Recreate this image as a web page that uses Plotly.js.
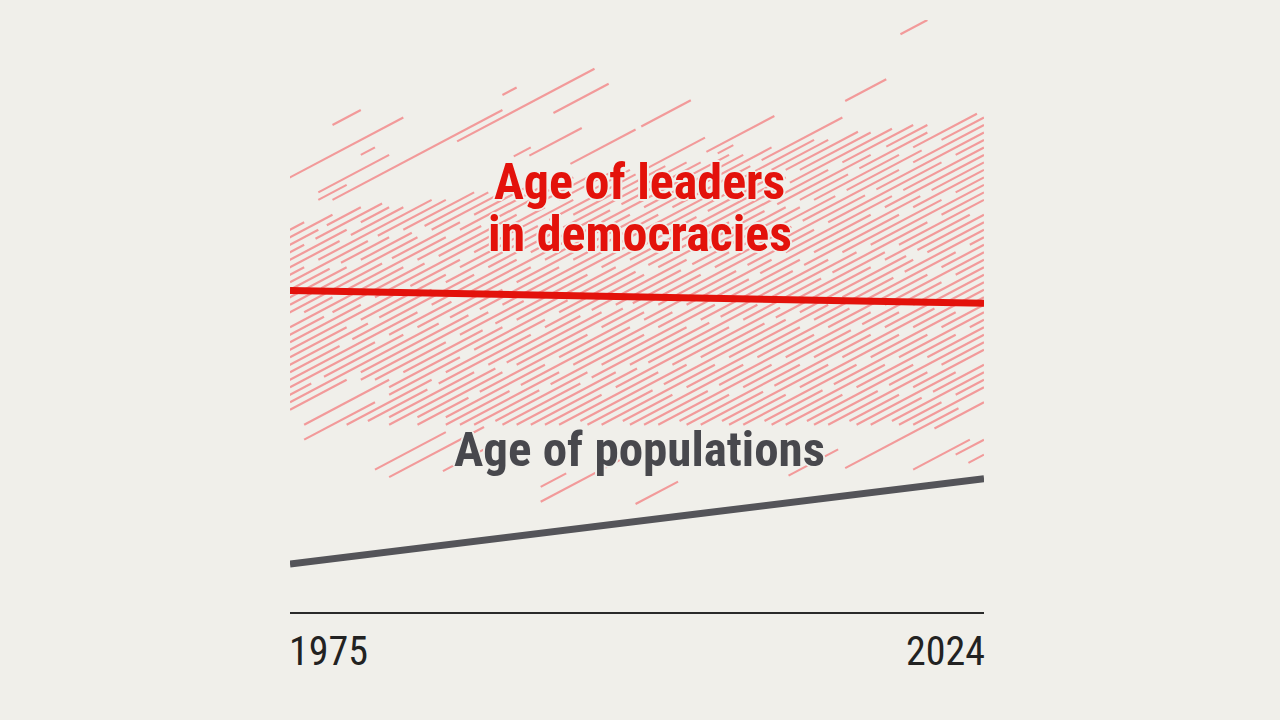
<!DOCTYPE html>
<html>
<head>
<meta charset="utf-8">
<script src="https://cdn.plot.ly/plotly-3.0.1.min.js"></script>
<style>
html,body{margin:0;padding:0;background:#f0efea;}
#chart{width:1280px;height:720px;}
</style>
</head>
<body>
<div id="chart"></div>
<script>
// Years shown on the x axis
const tickYears = [1975, 2024];

// Trend lines (age in years)
const trendYears = [1975, 2024];
const leaderAge = [55.9, 54.2];      // Age of leaders in democracies
const populationAge = [19.4, 30.8];  // Age of populations

// Individual leaders' tenures: [birth year, term start, term end]
const tenures = [
  [1900,1978,1980],
  [1904,1970,1983],
  [1906,1980,1981],
  [1908,1977,1982],[1908,1990,1991],
  [1909,1977,1979],
  [1910,1978,1990],
  [1911,1972,1976],[1911,1986.8,1996.5],
  [1912,1971,1978],
  [1913,1974,1977],[1913,1977.6,1980],
  [1914,1970,1976],[1914,1976.8,1981.5],[1914,1993.6,1997.5],
  [1915,1973,1979],[1915,1980,1982],
  [1916,1974,1978.5],[1916,1979.3,1983],
  [1917,1972,1976],[1917,1977,1985],[1917,1990.8,1992],
  [1918,1975,1980.5],[1918,1981.2,1986],[1918,1991.9,1995.6],
  [1919,1973,1977.8],[1919,1978.6,1982],[1919,1983,1988],
  [1920,1970,1979],[1920,1980,1983.6],[1920,1984.5,1989],
  [1921,1975,1976.5],[1921,1977.2,1984],[1921,1985,1990.5],
  [1922,1974,1981.5],[1922,1982.2,1987],[1922,1988,1992],[1922,1994.8,1999.4],[1922,1999.8,2003.3],
  [1923,1976,1978],[1923,1979,1986],[1923,1987,1993],
  [1924,1975,1983],[1924,1984,1988.5],[1924,1989.3,1995],
  [1925,1972,1977.4],[1925,1978,1984.5],[1925,1985.5,1991],[1925,1992,1996],
  [1926,1975,1980],[1926,1981,1989.6],[1926,1990.3,1993],[1926,1994,1998],
  [1927,1974,1982.6],[1927,1983.5,1987],[1927,1988,1995],[1927,1996,1999],
  [1928,1975,1979],[1928,1980,1986],[1928,1987,1992.5],[1928,1993.3,1999.4],[1928,2000.2,2004.3],[1928,2018.1,2020],
  [1929,1973,1980.5],[1929,1981.3,1985],[1929,1986,1994],[1929,1995,2001.5],
  [1930,1975,1978.5],[1930,1979.4,1988],[1930,1989,1993.5],[1930,1994.3,2003],[1930,2004.4,2009.2],
  [1931,1974,1984],[1931,1985,1991],[1931,1992,1997.6],[1931,1998.4,2004],[1931,2005.2,2006.3],
  [1932,1975,1981],[1932,1982,1986.4],[1932,1987.2,1996],[1932,1997,2006],
  [1933,1972,1976.5],[1933,1977.4,1983],[1933,1984,1992],[1933,1993,1999],[1933,2000,2007],[1933,2014.2,2017.1],
  [1934,1975,1985.5],[1934,1986.3,1990],[1934,1991,1995.6],[1934,1996.5,2003],[1934,2004,2009],
  [1935,1975,1979],[1935,1980,1987.6],[1935,1988.4,1994],[1935,1995,2001],[1935,2002,2007.5],[1935,2008.3,2014],
  [1936,1980,1989],[1936,1990,1997.5],[1936,1998.2,2005],[1936,2006,2012],
  [1937,1981,1986],[1937,1987,1991.5],[1937,1992.3,1999],[1937,2000,2008],[1937,2009,2013],
  [1938,1976,1982],[1938,1983,1988.6],[1938,1989.5,1996],[1938,1997,2003.7],[1938,2004.5,2009],[1938,2010,2015.1],
  [1939,1982,1990],[1939,1991,1998],[1939,1999,2002.5],[1939,2003.4,2010],[1939,2011,2016],
  [1940,1976,1981],[1940,1982,1987],[1940,1988,1994.6],[1940,1995.5,2001],[1940,2002,2009.5],[1940,2010.3,2017.5],
  [1941,1979,1985],[1941,1986,1993],[1941,1994,1999.4],[1941,2000.3,2006],[1941,2007,2013],[1941,2014,2019],
  [1942,1980.5,1984.7],[1942,1985.5,1992],[1942,1993,2000],[1942,2001,2008.5],[1942,2009.4,2016],[1942,2017.1,2020],
  [1943,1982,1988],[1943,1989,1995.5],[1943,1996.3,2003],[1943,2004,2010],[1943,2011,2014.4],[1943,2015.2,2020],
  [1944,1982,1989.5],[1944,1990.3,1997],[1944,1998,2002.6],[1944,2003.4,2011],[1944,2012,2018],[1944,2019,2023.5],
  [1945,1984,1990],[1945,1991,1998.5],[1945,1999.2,2006],[1945,2007,2013.5],[1945,2014.3,2019.6],[1945,2021,2024],
  [1946,1984,1987.6],[1946,1988.4,1996],[1946,1997,2004],[1946,2005,2010.4],[1946,2011.2,2018],[1946,2019,2024],
  [1947,1986,1993],[1947,1994,2000],[1947,2001,2008],[1947,2009,2015.6],[1947,2016.4,2024],
  [1948,1986,1990.5],[1948,1991.3,1999],[1948,2000,2006.5],[1948,2007.3,2012],[1948,2013,2021],[1948,2022,2024],
  [1949,1981,1986],[1949,1987,1994],[1949,1995,2002],[1949,2003,2009],[1949,2010,2017.5],[1949,2018.3,2024],
  [1950,1988,1992.6],[1950,1993.4,2000],[1950,2001,2007.4],[1950,2008.2,2016],[1950,2017,2024],
  [1951,1982,1988.7],[1951,1989.5,1996],[1951,1997,2005],[1951,2006,2011],[1951,2012,2019.5],[1951,2020.3,2024],
  [1952,1990,1995.5],[1952,1996.3,2003],[1952,2004,2010.5],[1952,2011.3,2018],[1952,2019,2024],
  [1953,1991,1998],[1953,1999,2004.6],[1953,2005.4,2013],[1953,2014,2021],[1953,2022,2024],
  [1954,1985.8,1989.7],[1954,1992,1999.5],[1954,2000.3,2008],[1954,2009,2015],[1954,2016,2024],
  [1955,1993,1997],[1955,1998,2006],[1955,2007,2012.5],[1955,2013.3,2020],[1955,2021,2024],
  [1956,1994,2001],[1956,2002,2009.6],[1956,2010.4,2017],[1956,2018,2024],
  [1957,1995.5,2003],[1957,2004,2008.5],[1957,2009.3,2016],[1957,2017,2023],
  [1958,1996,2000.6],[1958,2001.4,2010],[1958,2011,2018.5],[1958,2019.3,2024],
  [1959,1997,2005],[1959,2006,2013],[1959,2014,2019],[1959,2020,2024],
  [1960,1998.5,2002],[1960,2003,2011],[1960,2012,2017.6],[1960,2018.4,2024],
  [1961,1999,2007],[1961,2008,2014.5],[1961,2015.3,2022],[1961,2023,2024],
  [1962,2000,2004.5],[1962,2005.3,2012],[1962,2013,2020],[1962,2021,2024],
  [1963,1992.7,1994.5],[1963,2001,2009],[1963,2010,2016],[1963,2017,2024],
  [1964,2002.5,2006],[1964,2007,2014.6],[1964,2015.4,2021],[1964,2022,2024],
  [1965,1992.7,1998.7],[1965,2003,2011],[1965,2012,2018],[1965,2019,2024],
  [1966,2004,2008.4],[1966,2009.2,2016],[1966,2017,2024],
  [1967,2005.5,2013],[1967,2014,2020.5],[1967,2021.3,2024],
  [1968,2006,2010],[1968,2011,2018],[1968,2019,2024],
  [1969,2007,2015],[1969,2016,2022],[1969,2023,2024],
  [1970,2008.5,2012.6],[1970,2013.4,2020],[1970,2021,2024],
  [1971,2009,2017],[1971,2018,2024],
  [1972,1999.4,2002.4],[1972,2010,2014],[1972,2015,2022],[1972,2023,2024],
  [1973,2011.5,2019],[1973,2020,2024],
  [1974,2012,2016.5],[1974,2017.3,2024],
  [1975,2013,2020],[1975,2021,2024],
  [1976,2014.5,2018],[1976,2019,2024],
  [1977,2015,2022],
  [1978,2016,2019.6],[1978,2020.4,2024],
  [1979,2010.2,2013.7],[1979,2017.5,2024],
  [1980,2018,2021],[1980,2022,2024],
  [1981,2019,2024],
  [1982,2014.2,2022.2],
  [1983,2020.5,2024],
  [1987,2019,2023],
  [1988,2022,2024],
  [1990,2022.9,2024]
];

// Build segments: age rises one year per year of tenure
const segX = [], segY = [];
tenures.forEach(([born, start, end]) => {
  segX.push(start, end, null);
  segY.push(start - born, end - born, null);
});

const BG = '#f0efea';
const RED = '#e3120b';
const GREY = '#545459';
const halo = `1px 1px 0 ${BG}, -1px -1px 0 ${BG}, 1px -1px 0 ${BG}, -1px 1px 0 ${BG}, 2px 0 0 ${BG}, -2px 0 0 ${BG}, 0 2px 0 ${BG}, 0 -2px 0 ${BG}`;

const traces = [
  {x: segX, y: segY, type: 'scatter', mode: 'lines',
   line: {color: '#f29a9a', width: 2.2}, hoverinfo: 'skip', connectgaps: false},
  {x: trendYears, y: populationAge, type: 'scatter', mode: 'lines',
   line: {color: GREY, width: 7}, hoverinfo: 'skip'},
  {x: trendYears, y: leaderAge, type: 'scatter', mode: 'lines',
   line: {color: RED, width: 7}, hoverinfo: 'skip'}
];

const condensed = 'Liberation Sans Narrow, Roboto Condensed, Roboto, sans-serif';

const layout = {
  width: 1280, height: 720,
  paper_bgcolor: BG, plot_bgcolor: BG,
  margin: {l: 290, r: 296, t: 20, b: 108},
  showlegend: false,
  xaxis: {range: [1975, 2024], showgrid: false, zeroline: false,
          showticklabels: false, ticks: '', showline: true,
          linecolor: '#2a2a2a', linewidth: 2, fixedrange: true},
  yaxis: {range: [13, 92], visible: false, showgrid: false, zeroline: false, fixedrange: true},
  annotations: [
    {text: '<b>Age of leaders</b>', xref: 'paper', yref: 'paper', x: 0.504, y: 0.726,
     xanchor: 'center', yanchor: 'middle', showarrow: false,
     font: {family: condensed, size: 50, color: RED, shadow: halo}},
    {text: '<b>in democracies</b>', xref: 'paper', yref: 'paper', x: 0.504, y: 0.638,
     xanchor: 'center', yanchor: 'middle', showarrow: false,
     font: {family: condensed, size: 50, color: RED, shadow: halo}},
    {text: '<b>Age of populations</b>', xref: 'paper', yref: 'paper', x: 0.504, y: 0.274,
     xanchor: 'center', yanchor: 'middle', showarrow: false,
     font: {family: condensed, size: 49, color: '#48484d', shadow: halo}},
    {text: String(tickYears[0]), xref: 'x', yref: 'paper', x: tickYears[0], y: -0.066,
     xanchor: 'left', yanchor: 'middle', showarrow: false, xshift: -3,
     font: {family: condensed, size: 40, color: '#222222'}},
    {text: String(tickYears[1]), xref: 'x', yref: 'paper', x: tickYears[1], y: -0.066,
     xanchor: 'right', yanchor: 'middle', showarrow: false, xshift: 3,
     font: {family: condensed, size: 40, color: '#222222'}}
  ]
};

Plotly.newPlot('chart', traces, layout, {displayModeBar: false, staticPlot: true});
</script>
</body>
</html>
